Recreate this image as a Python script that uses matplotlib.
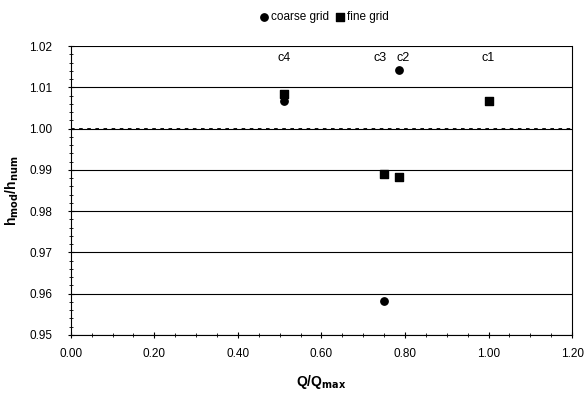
import matplotlib.pyplot as plt
from matplotlib.ticker import MultipleLocator, FormatStrFormatter

plt.rcParams["font.family"] = ["Liberation Sans", "DejaVu Sans"]

case_labels = ["c1", "c2", "c3", "c4"]
q_ratio = [1.00, 0.785, 0.75, 0.51]
coarse_grid = [1.0068, 1.0141, 0.9582, 1.0066]
fine_grid = [1.0066, 0.9883, 0.9889, 1.0085]
label_x = [1.00, 0.795, 0.74, 0.51]
label_y = 1.017
reference = 1.0

fig = plt.figure(figsize=(5.85, 3.94), dpi=100)
ax = fig.add_axes([0.121, 0.150, 0.857, 0.733])

ax.axhline(reference, color="black", linewidth=1.3, dashes=(2, 2.5), zorder=2)
ax.scatter(q_ratio, coarse_grid, marker="o", s=28, color="black", zorder=3,
           label="coarse grid")
ax.scatter(q_ratio, fine_grid, marker="s", s=30, color="black", zorder=4,
           label="fine grid")

for name, xl in zip(case_labels, label_x):
    ax.text(xl, label_y, name, ha="center", va="center", fontsize=9)

ax.set_xlim(0, 1.2)
ax.set_ylim(0.95, 1.02)
ax.xaxis.set_major_locator(MultipleLocator(0.2))
ax.xaxis.set_minor_locator(MultipleLocator(0.05))
ax.yaxis.set_major_locator(MultipleLocator(0.01))
ax.yaxis.set_minor_locator(MultipleLocator(0.002))
ax.xaxis.set_major_formatter(FormatStrFormatter("%.2f"))
ax.yaxis.set_major_formatter(FormatStrFormatter("%.2f"))
ax.tick_params(axis="both", which="major", direction="inout", length=5,
               width=0.8, labelsize=8.5)
ax.tick_params(axis="x", which="major", pad=7)
ax.tick_params(axis="y", which="major", pad=11)
ax.tick_params(axis="both", which="minor", direction="inout", length=3,
               width=0.6)
ax.grid(True, axis="y", which="major", color="black", linewidth=0.8)

for side in ["left", "bottom", "right"]:
    ax.spines[side].set_linewidth(0.8)
ax.spines["top"].set_visible(False)

ax.set_xlabel("Q/Q$_{\\mathbf{max}}$", fontsize=10, fontweight="bold", labelpad=9)
ax.set_ylabel("h$_{\\mathbf{mod}}$/h$_{\\mathbf{num}}$", fontsize=10,
              fontweight="bold", labelpad=6)

fig.legend(loc="upper center", bbox_to_anchor=(0.553, 1.0), ncol=2,
           frameon=False, fontsize=8.5, handletextpad=0.1, columnspacing=0.4,
           handlelength=1.0)

fig.savefig("out.png", dpi=100)
